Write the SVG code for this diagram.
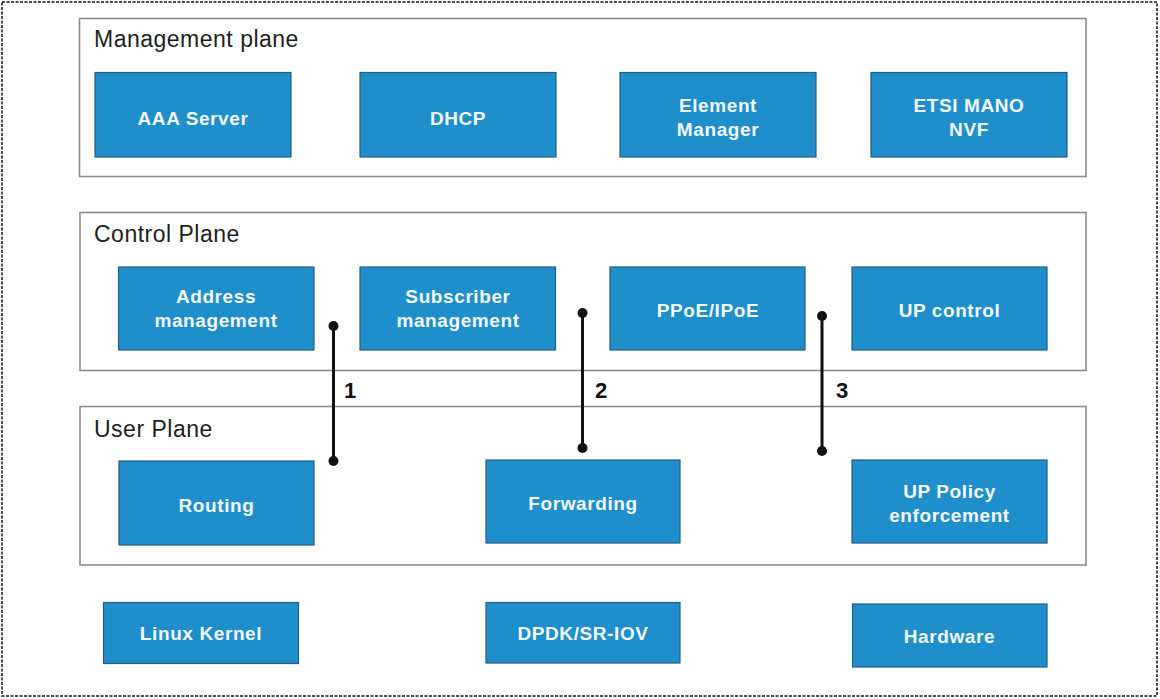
<svg xmlns="http://www.w3.org/2000/svg" width="1160" height="699" viewBox="0 0 1160 699">
<style>
.plane{fill:#fff;stroke:#8c8c8c;stroke-width:1.6}
.ptitle{font-family:"Liberation Sans",Arial,sans-serif;font-size:23px;fill:#1e1e1e;letter-spacing:0.5px}
.box{fill:#1f8fcc;stroke:#245e83;stroke-width:1.2}
.btxt{font-family:"Liberation Sans",Arial,sans-serif;font-size:19px;font-weight:bold;fill:#f2f8fc;text-anchor:middle;letter-spacing:0.6px}
.conn{stroke:#111;stroke-width:3;fill:none}
.dot{fill:#111}
.num{font-family:"Liberation Sans",Arial,sans-serif;font-size:22px;font-weight:bold;fill:#111}
</style>
<rect x="2" y="2" width="1155" height="694" fill="#fff" stroke="#111" stroke-width="1.5" stroke-dasharray="3 1.5"/>

<g id="management-plane">
<rect class="plane" x="79.5" y="18.5" width="1006.5" height="158"/>
<text class="ptitle" x="94" y="47">Management plane</text>
</g>
<g id="aaa-server"><rect class="box" x="95" y="72.5" width="196" height="84.5"/><text class="btxt" x="193" y="125">AAA Server</text></g>
<g id="dhcp"><rect class="box" x="360" y="72.5" width="196" height="84.5"/><text class="btxt" x="458" y="125">DHCP</text></g>
<g id="element-manager"><rect class="box" x="620" y="72.5" width="196" height="84.5"/><text class="btxt" x="718" y="111.5">Element</text><text class="btxt" x="718" y="135.5">Manager</text></g>
<g id="etsi-mano"><rect class="box" x="871" y="72.5" width="196" height="84.5"/><text class="btxt" x="969" y="111.5">ETSI MANO</text><text class="btxt" x="969" y="135.5">NVF</text></g>

<g id="control-plane">
<rect class="plane" x="80" y="212.5" width="1006" height="158"/>
<text class="ptitle" x="94" y="242">Control Plane</text>
</g>
<g id="address-management"><rect class="box" x="118.5" y="267" width="195.5" height="83"/><text class="btxt" x="216" y="303">Address</text><text class="btxt" x="216" y="327">management</text></g>
<g id="subscriber-management"><rect class="box" x="360" y="267" width="195.5" height="83"/><text class="btxt" x="458" y="303">Subscriber</text><text class="btxt" x="458" y="327">management</text></g>
<g id="ppoe-ipoe"><rect class="box" x="610" y="267" width="195" height="83"/><text class="btxt" x="708" y="316.5">PPoE/IPoE</text></g>
<g id="up-control"><rect class="box" x="852" y="267" width="195" height="83"/><text class="btxt" x="949.5" y="316.5">UP control</text></g>

<g id="user-plane">
<rect class="plane" x="80" y="406.5" width="1006" height="158.5"/>
<text class="ptitle" x="94" y="437">User Plane</text>
</g>
<g id="routing"><rect class="box" x="119" y="461" width="195" height="84"/><text class="btxt" x="216.5" y="511.5">Routing</text></g>
<g id="forwarding"><rect class="box" x="486" y="460" width="194" height="83"/><text class="btxt" x="583" y="510">Forwarding</text></g>
<g id="up-policy"><rect class="box" x="852" y="460" width="195" height="83"/><text class="btxt" x="949.5" y="498">UP Policy</text><text class="btxt" x="949.5" y="522">enforcement</text></g>

<g id="linux-kernel"><rect class="box" x="103.5" y="602.5" width="195" height="61"/><text class="btxt" x="201" y="640">Linux Kernel</text></g>
<g id="dpdk"><rect class="box" x="486" y="602.5" width="194" height="60.5"/><text class="btxt" x="583" y="640">DPDK/SR-IOV</text></g>
<g id="hardware"><rect class="box" x="852.5" y="604" width="194.5" height="63"/><text class="btxt" x="949.5" y="643">Hardware</text></g>

<g id="connectors">
<line class="conn" x1="333.5" y1="326" x2="333.5" y2="461"/>
<circle class="dot" cx="333.5" cy="326" r="5"/><circle class="dot" cx="333.5" cy="461" r="5"/>
<text class="num" x="344" y="398">1</text>
<line class="conn" x1="582.5" y1="313" x2="582.5" y2="448"/>
<circle class="dot" cx="582.5" cy="313" r="5"/><circle class="dot" cx="582.5" cy="448" r="5"/>
<text class="num" x="595" y="398">2</text>
<line class="conn" x1="822" y1="316" x2="822" y2="451"/>
<circle class="dot" cx="822" cy="316" r="5"/><circle class="dot" cx="822" cy="451" r="5"/>
<text class="num" x="836" y="398">3</text>
</g>
</svg>
